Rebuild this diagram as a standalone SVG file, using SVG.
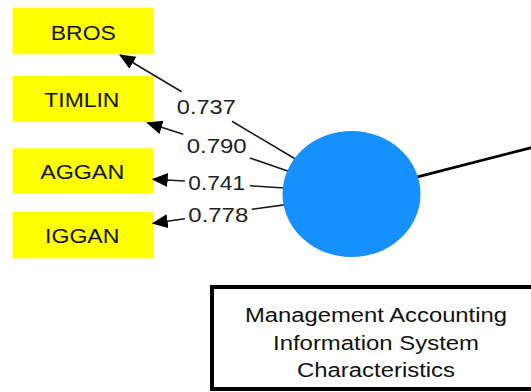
<svg xmlns="http://www.w3.org/2000/svg" width="531" height="392" viewBox="0 0 531 392">
  <style>
    .ind rect { fill: #ffff00; }
    .ind text { font-family: "Liberation Sans", Arial, sans-serif; font-size: 20.5px; fill: #111; text-anchor: middle; }
    .lbl { font-family: "Liberation Sans", Arial, sans-serif; font-size: 20px; fill: #222; text-anchor: middle; }
    .edge { stroke: #1a1a1a; stroke-width: 1.6; fill: none; }
    .title text { font-family: "Liberation Sans", Arial, sans-serif; font-size: 19.5px; fill: #111; text-anchor: middle; }
  </style>
  <defs>
    <marker id="arr" markerUnits="userSpaceOnUse" markerWidth="18" markerHeight="16" refX="15" refY="7" orient="auto">
      <path d="M0,0 L16,7 L0,14 z" fill="#000"/>
    </marker>
  </defs>
  <rect width="531" height="392" fill="#fff"/>

  <g id="BROS" class="ind">
    <rect x="12.5" y="7.7" width="141" height="46.6"/>
    <text x="83.3" y="40" textLength="65" lengthAdjust="spacingAndGlyphs">BROS</text>
  </g>
  <g id="TIMLIN" class="ind">
    <rect x="12.5" y="75.7" width="141" height="46"/>
    <text x="81.8" y="106.7" textLength="75" lengthAdjust="spacingAndGlyphs">TIMLIN</text>
  </g>
  <g id="AGGAN" class="ind">
    <rect x="12.5" y="148.3" width="141" height="45"/>
    <text x="82.2" y="179.3" textLength="84" lengthAdjust="spacingAndGlyphs">AGGAN</text>
  </g>
  <g id="IGGAN" class="ind">
    <rect x="12.5" y="211.7" width="141" height="46.6"/>
    <text x="82.2" y="243.3" textLength="74.3" lengthAdjust="spacingAndGlyphs">IGGAN</text>
  </g>

  <g id="connectors">
    <path class="edge" d="M300,161.8 L232,121.3"/>
    <path class="edge" d="M181.7,91.7 L120,55" marker-end="url(#arr)"/>
    <path class="edge" d="M295,173.4 L250,158"/>
    <path class="edge" d="M183.3,134.3 L147.3,122.7" marker-end="url(#arr)"/>
    <path class="edge" d="M295,188.8 L250,185.8"/>
    <path class="edge" d="M185,181 L152.7,179.3" marker-end="url(#arr)"/>
    <path class="edge" d="M295,203.4 L251.7,209.3"/>
    <path class="edge" d="M185,218.7 L152.7,223.3" marker-end="url(#arr)"/>
    <path d="M400,181.3 L536,146.4" stroke="#000" stroke-width="2.8" fill="none"/>
    <text class="lbl" x="206.3" y="114" textLength="59" lengthAdjust="spacingAndGlyphs">0.737</text>
    <text class="lbl" x="216.7" y="153.3" textLength="60" lengthAdjust="spacingAndGlyphs">0.790</text>
    <text class="lbl" x="216.7" y="190" textLength="56.7" lengthAdjust="spacingAndGlyphs">0.741</text>
    <text class="lbl" x="218.3" y="221.7" textLength="60" lengthAdjust="spacingAndGlyphs">0.778</text>
  </g>

  <g id="MAIS">
    <ellipse cx="351.5" cy="194" rx="69" ry="63" fill="#1590fe"/>
  </g>

  <g id="title" class="title">
    <rect x="212" y="287" width="340" height="102" fill="#fff" stroke="#000" stroke-width="4"/>
    <text x="376" y="321.5" textLength="262" lengthAdjust="spacingAndGlyphs">Management Accounting</text>
    <text x="376" y="349.5" textLength="206" lengthAdjust="spacingAndGlyphs">Information System</text>
    <text x="376" y="377" textLength="158" lengthAdjust="spacingAndGlyphs">Characteristics</text>
  </g>
</svg>
